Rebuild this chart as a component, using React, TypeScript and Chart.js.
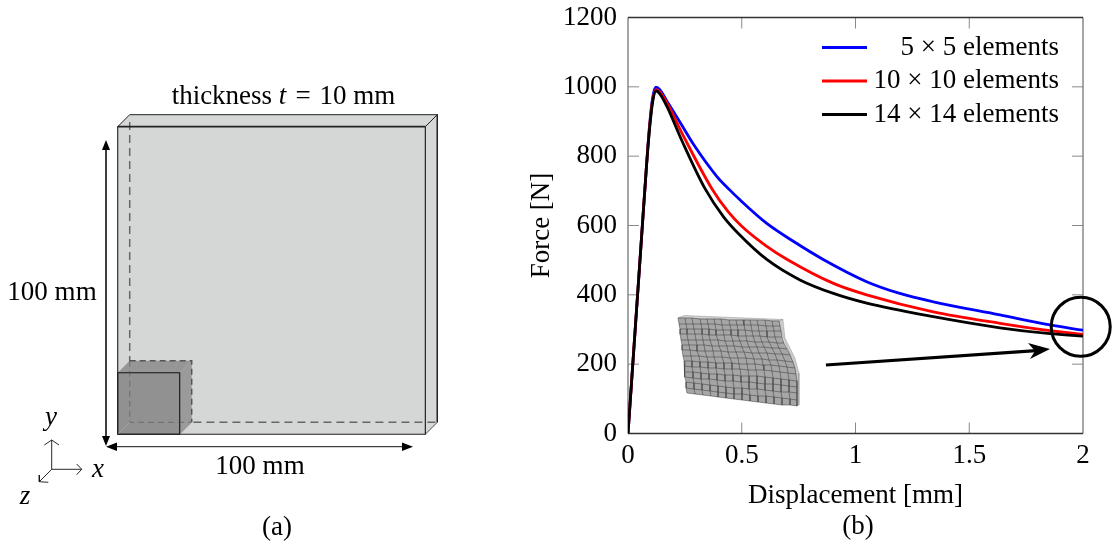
import React, { useEffect, useRef } from "react";
import { Chart, registerables } from "chart.js";

Chart.register(...registerables);

const SERIF = '"Liberation Serif", "Times New Roman", serif';
const FONT_SIZE = 27;

// Force-displacement curves (displacement mm, force N)
const BLUE_DISP = [0, 0.02, 0.04, 0.06, 0.08, 0.095, 0.108, 0.123, 0.14, 0.17, 0.236, 0.287, 0.39, 0.448, 0.492, 0.61, 0.73, 0.858, 1.049, 1.195, 1.342, 1.635, 1.855, 2];
const BLUE_FORCE = [0, 190, 380, 570, 760, 890, 968, 999, 992, 960, 890, 835, 742, 702, 674, 606, 553, 502, 438, 404, 380, 342, 313, 298];
const RED_DISP = [0, 0.02, 0.04, 0.06, 0.08, 0.095, 0.108, 0.123, 0.14, 0.17, 0.236, 0.368, 0.44, 0.5, 0.61, 0.7, 0.903, 1.049, 1.342, 1.635, 1.855, 2];
const RED_FORCE = [0, 190, 380, 570, 760, 885, 960, 992, 985, 955, 868, 707, 640, 598, 540, 502, 433, 400, 351, 318, 297, 286];
const BLACK_DISP = [0, 0.02, 0.04, 0.06, 0.08, 0.095, 0.108, 0.123, 0.14, 0.17, 0.236, 0.338, 0.42, 0.485, 0.61, 0.756, 0.903, 1.049, 1.342, 1.635, 1.855, 2];
const BLACK_FORCE = [0, 190, 380, 570, 760, 880, 955, 988, 980, 945, 846, 707, 625, 577, 502, 443, 404, 376, 337, 305, 288, 281];
const LEGEND_LABELS = ["5 × 5 elements", "10 × 10 elements", "14 × 14 elements"];
const LINE_COLORS = ["#0000ff", "#ff0000", "#000000"];
const ARROW_DISP = [0.87, 1.81];
const ARROW_FORCE = [197.6, 240];
const CIRCLE_DISP = 1.99;
const CIRCLE_FORCE = 308;

// Diagram geometry, in page units
type P = [number, number];
const PLATE_FRONT: P[] = [[117.7, 126.7], [425.3, 126.7], [425.3, 434.3], [117.7, 434.3], [117.7, 126.7]];
const PLATE_TOP: P[] = [[117.7, 126.7], [129.7, 114.7], [437.3, 114.7], [425.3, 126.7], [117.7, 126.7]];
const PLATE_SIDE: P[] = [[425.3, 126.7], [437.3, 114.7], [437.3, 422.3], [425.3, 434.3], [425.3, 126.7]];
const PLATE_HIDDEN: P[] = [[129.7, 122], [129.7, 422.3], [437.3, 422.3]];
const CUBE_FRONT: P[] = [[117.7, 372.7], [179.7, 372.7], [179.7, 434.3], [117.7, 434.3], [117.7, 372.7]];
const CUBE_TOP: P[] = [[117.7, 372.7], [129.7, 360.7], [191.7, 360.7], [179.7, 372.7], [117.7, 372.7]];
const CUBE_SIDE: P[] = [[179.7, 372.7], [191.7, 360.7], [191.7, 422.3], [179.7, 434.3], [179.7, 372.7]];
const CUBE_DASH: P[] = [[129.7, 360.7], [191.7, 360.7], [191.7, 422.3]];
const CUBE_INNER: P[] = [[129.7, 360.7], [129.7, 422.3], [191.7, 422.3]];
const CUBE_LINK_A: P[] = [[117.7, 434.3], [129.7, 422.3]];
const CUBE_LINK_B: P[] = [[179.7, 434.3], [191.7, 422.3]];
const PLATE_LINK: P[] = [[425.3, 434.3], [437.3, 422.3]];
const PLATE_TOP_EDGE: P[] = [[117.7, 126.7], [425.3, 126.7]];
const PLATE_EDGES: P[] = [[425.3, 126.7], [425.3, 434.3], [117.7, 434.3], [117.7, 126.7]];
const DIM_V: P[] = [[106, 146], [106, 440]];
const DIM_H: P[] = [[112, 446.7], [407, 446.7]];
const DIM_HEADS: P[][] = [
  [[106, 140], [102, 150], [110, 150], [106, 140]],
  [[106, 446], [102, 436], [110, 436], [106, 446]],
  [[106, 446.7], [117, 442.5], [117, 451], [106, 446.7]],
  [[413, 446.7], [402, 442.5], [402, 451], [413, 446.7]],
];
const AXIS_LINES: P[][] = [
  [[51.7, 469.3], [51.7, 440]],
  [[51.7, 469.3], [81.7, 469.3]],
  [[51.7, 469.3], [39.3, 481.7]],
  [[44.3, 445], [51.7, 440], [59, 445]],
  [[76.7, 464], [81.7, 469.3], [76.7, 474.7]],
  [[39.3, 475], [39.3, 481.7], [48.3, 482.3]],
];
const FLOW_HEAD: P[] = [[1050, 349], [1028, 343], [1035, 351], [1030, 359], [1050, 349]];

// Deformed mesh inset: node table, rows by columns
const MESH_X = [
  [678, 685, 692, 700, 707, 714, 721, 729, 736, 743, 750, 757, 765, 772, 779],
  [679, 686, 693, 701, 708, 715, 722, 730, 737, 744, 751, 758, 766, 773, 780],
  [680, 687, 694, 702, 709, 716, 723, 731, 738, 745, 752, 759, 767, 774, 781],
  [680, 687, 695, 702, 709, 716, 724, 731, 738, 746, 753, 760, 767, 775, 782],
  [681, 688, 696, 703, 710, 718, 725, 733, 740, 747, 755, 762, 769, 777, 784],
  [682, 689, 697, 704, 712, 719, 727, 734, 742, 749, 757, 764, 772, 779, 787],
  [682, 690, 697, 705, 713, 721, 728, 736, 744, 752, 759, 767, 775, 782, 790],
  [683, 691, 699, 707, 714, 722, 730, 738, 746, 754, 762, 769, 777, 785, 793],
  [684, 692, 700, 708, 716, 724, 732, 739, 747, 755, 763, 771, 779, 787, 795],
  [684, 692, 700, 708, 716, 724, 732, 740, 748, 756, 764, 772, 780, 788, 796],
  [685, 693, 701, 709, 717, 725, 733, 741, 749, 757, 765, 773, 781, 789, 797],
  [685, 693, 701, 709, 717, 725, 733, 741, 749, 757, 765, 773, 781, 789, 797],
  [686, 694, 702, 710, 718, 726, 734, 742, 749, 757, 765, 773, 781, 789, 797],
  [686, 694, 702, 710, 718, 726, 734, 742, 750, 758, 766, 774, 782, 790, 797],
  [687, 695, 703, 711, 718, 726, 734, 742, 750, 758, 766, 774, 782, 790, 797],
];
const MESH_Y = [
  [318, 318, 318, 319, 319, 319, 319, 320, 320, 320, 320, 320, 320, 321, 321],
  [324, 324, 324, 324, 324, 324, 325, 325, 325, 325, 325, 325, 326, 326, 326],
  [329, 329, 329, 329, 329, 330, 330, 330, 330, 330, 331, 331, 331, 331, 331],
  [334, 334, 334, 334, 335, 335, 335, 335, 336, 336, 336, 336, 337, 337, 337],
  [340, 340, 340, 340, 340, 340, 341, 341, 341, 341, 342, 342, 342, 343, 343],
  [345, 345, 345, 345, 346, 346, 346, 346, 347, 347, 347, 347, 348, 348, 349],
  [350, 350, 351, 351, 351, 351, 352, 352, 352, 353, 353, 353, 354, 354, 355],
  [356, 356, 356, 357, 357, 357, 358, 358, 358, 359, 359, 360, 360, 361, 362],
  [361, 361, 362, 362, 363, 363, 363, 364, 364, 364, 365, 365, 366, 367, 368],
  [366, 367, 367, 368, 368, 369, 369, 369, 370, 370, 370, 371, 372, 373, 374],
  [372, 372, 373, 374, 374, 375, 375, 376, 376, 376, 377, 378, 379, 380, 381],
  [377, 378, 379, 379, 380, 381, 381, 382, 382, 383, 384, 384, 385, 386, 387],
  [382, 383, 384, 385, 386, 387, 388, 388, 389, 389, 390, 391, 392, 392, 393],
  [388, 389, 390, 391, 392, 393, 394, 394, 395, 396, 396, 397, 398, 399, 400],
  [393, 394, 395, 396, 397, 398, 399, 400, 401, 402, 403, 404, 405, 405, 406],
];
const MESH_TOP_STRIP: P[] = [[678, 318], [684, 315.5], [783, 319.5], [779, 321], [678, 318]];
const MESH_SIDE_STRIP: P[] = [[779, 321], [783, 319.5], [785, 338], [795, 358], [799, 373], [799, 405], [797, 406], [797, 381], [790, 355], [781, 331], [779, 321]];

type Txt = { parts: [string, boolean][]; x: number; y: number };
const DIAGRAM_TEXT: Txt[] = [
  { parts: [["thickness ", false], ["t", true], ["\u200a = \u200a10 mm", false]], x: 283.5, y: 97 },
  { parts: [["100 mm", false]], x: 52, y: 293 },
  { parts: [["100 mm", false]], x: 260, y: 467 },
  { parts: [["y", true]], x: 51, y: 418 },
  { parts: [["x", true]], x: 98, y: 470 },
  { parts: [["z", true]], x: 25, y: 497 },
  { parts: [["(a)", false]], x: 277, y: 528 },
  { parts: [["(b)", false]], x: 858, y: 527 },
];
const LEGEND_Y = [47.5, 81, 114.5];
const PLOT_TOP = 17.5;
const PLOT_BOTTOM = 433.5;

const toXY = (p: P[]) => p.map(([x, y]) => ({ x, y }));

const polygon = (pts: P[], fill: string, stroke = "transparent", width = 0) => ({
  data: toXY(pts), fill: "shape" as const, backgroundColor: fill, borderColor: stroke, borderWidth: width,
  pointRadius: 0, showLine: true, tension: 0, borderJoinStyle: "miter" as const,
});
const path = (pts: P[], stroke: string, width: number, dash: number[] = []) => ({
  data: toXY(pts), fill: false, borderColor: stroke, borderWidth: width, borderDash: dash,
  pointRadius: 0, showLine: true, tension: 0,
});

const textPlugin = {
  id: "diagramText",
  afterDraw(chart: any) {
    const { ctx, scales } = chart;
    ctx.save();
    ctx.fillStyle = "#000";
    ctx.textBaseline = "middle";
    for (const t of DIAGRAM_TEXT) {
      const fontOf = (it: boolean) => `${it ? "italic " : ""}${FONT_SIZE}px ${SERIF}`;
      let total = 0;
      for (const [s, it] of t.parts) { ctx.font = fontOf(it); total += ctx.measureText(s).width; }
      let x = scales.x.getPixelForValue(t.x) - total / 2;
      const y = scales.y.getPixelForValue(t.y);
      ctx.textAlign = "left";
      for (const [s, it] of t.parts) {
        ctx.font = fontOf(it);
        ctx.fillText(s, x, y);
        x += ctx.measureText(s).width;
      }
    }
    ctx.restore();
  },
};

const framePlugin = {
  id: "frameAndLegend",
  afterLayout(chart: any) {
    const a = chart.chartArea;
    const y = chart.scales.y;
    a.top = PLOT_TOP; a.bottom = PLOT_BOTTOM; a.height = PLOT_BOTTOM - PLOT_TOP;
    y.top = PLOT_TOP; y.bottom = PLOT_BOTTOM; y.height = PLOT_BOTTOM - PLOT_TOP;
    y.configure();
  },
  beforeDatasetsDraw(chart: any) {
    const { ctx, chartArea: a, scales } = chart;
    const tickLen = 11;
    ctx.save();
    ctx.lineWidth = 1;
    ctx.strokeStyle = "#8a8a8a";
    for (const t of scales.y.ticks) {
      const y = scales.y.getPixelForValue(t.value);
      if (t.value === 0 || t.value === 1200) continue;
      ctx.beginPath();
      ctx.moveTo(a.left, y); ctx.lineTo(a.left + tickLen, y);
      ctx.moveTo(a.right - tickLen, y); ctx.lineTo(a.right, y);
      ctx.stroke();
    }
    for (const t of scales.x.ticks) {
      const x = scales.x.getPixelForValue(t.value);
      if (t.value === 0 || t.value === 2) continue;
      ctx.beginPath();
      ctx.moveTo(x, a.top); ctx.lineTo(x, a.top + tickLen);
      ctx.moveTo(x, a.bottom); ctx.lineTo(x, a.bottom - tickLen);
      ctx.stroke();
    }
    ctx.lineWidth = 1.3;
    ctx.strokeStyle = "#777";
    ctx.beginPath();
    ctx.moveTo(a.left, a.top); ctx.lineTo(a.left, a.bottom);
    ctx.moveTo(a.right, a.top); ctx.lineTo(a.right, a.bottom);
    ctx.stroke();
    ctx.strokeStyle = "#333";
    ctx.beginPath();
    ctx.moveTo(a.left, a.top); ctx.lineTo(a.right, a.top);
    ctx.moveTo(a.left, a.bottom); ctx.lineTo(a.right, a.bottom);
    ctx.stroke();
    ctx.restore();
  },
  afterDatasetsDraw(chart: any) {
    const { ctx, scales } = chart;
    ctx.save();
    ctx.strokeStyle = "#000";
    ctx.lineWidth = 3;
    ctx.beginPath();
    ctx.arc(scales.x.getPixelForValue(CIRCLE_DISP), scales.y.getPixelForValue(CIRCLE_FORCE), 29.5, 0, Math.PI * 2);
    ctx.stroke();
    ctx.font = `${FONT_SIZE}px ${SERIF}`;
    ctx.textBaseline = "middle";
    ctx.textAlign = "right";
    LEGEND_LABELS.forEach((label, i) => {
      ctx.strokeStyle = LINE_COLORS[i];
      ctx.lineWidth = 2.8;
      ctx.beginPath();
      ctx.moveTo(822, LEGEND_Y[i]); ctx.lineTo(867, LEGEND_Y[i]);
      ctx.stroke();
      ctx.fillStyle = "#000";
      ctx.fillText(label, 1059, LEGEND_Y[i]);
    });
    ctx.restore();
  },
};

const curve = (xs: number[], ys: number[], color: string) => ({
  data: xs.map((x, i) => ({ x, y: ys[i] })),
  borderColor: color, borderWidth: 2.8, pointRadius: 0, fill: false, showLine: true,
  cubicInterpolationMode: "monotone" as const,
});

export default function App() {
  const mainRef = useRef<HTMLCanvasElement>(null);
  const overlayRef = useRef<HTMLCanvasElement>(null);

  useEffect(() => {
    const main = new Chart(mainRef.current!, {
      type: "scatter",
      data: {
        datasets: [
          curve(BLACK_DISP, BLACK_FORCE, LINE_COLORS[2]),
          curve(RED_DISP, RED_FORCE, LINE_COLORS[1]),
          curve(BLUE_DISP, BLUE_FORCE, LINE_COLORS[0]),
          {
            data: ARROW_DISP.map((x, i) => ({ x, y: ARROW_FORCE[i] })),
            borderColor: "#000", borderWidth: 3.2, pointRadius: 0, showLine: true, fill: false,
          },
        ] as any,
      },
      options: {
        animation: false, responsive: false,
        layout: { autoPadding: false, padding: { left: 526, right: 29, top: 17.5, bottom: 32 } },
        plugins: { legend: { display: false }, tooltip: { enabled: false } },
        events: [],
        scales: {
          x: {
            type: "linear", min: 0, max: 2,
            grid: { display: false, drawTicks: false }, border: { display: false },
            afterFit: (s: any) => { s.height = 544 - 32 - 433.5; },
            ticks: {
              stepSize: 0.5, color: "#000", padding: 6, maxRotation: 0,
              font: { family: SERIF, size: FONT_SIZE },
              callback: (v: any) => String(v),
            },
            title: { display: true, text: "Displacement [mm]", color: "#000", font: { family: SERIF, size: FONT_SIZE }, padding: { top: 0, bottom: 0 } },
          },
          y: {
            type: "linear", min: 0, max: 1200,
            grid: { display: false, drawTicks: false }, border: { display: false },
            afterFit: (s: any) => { s.width = 628 - 526; },
            ticks: {
              stepSize: 200, color: "#000", padding: 11, font: { family: SERIF, size: FONT_SIZE },
              callback: (v: any) => String(v),
            },
            title: { display: true, text: "Force [N]", color: "#000", font: { family: SERIF, size: FONT_SIZE }, padding: { top: 0, bottom: 0 } },
          },
        },
      } as any,
      plugins: [framePlugin],
    });

    const meshBoundary: P[] = [
      ...MESH_X[0].map((x, c): P => [x, MESH_Y[0][c]]),
      ...MESH_X.map((row, r): P => [row[14], MESH_Y[r][14]]),
      ...MESH_X[14].map((x, c): P => [x, MESH_Y[14][c]]).reverse(),
      ...MESH_X.map((row, r): P => [row[0], MESH_Y[r][0]]).reverse(),
    ];
    const meshRows = MESH_X.map((row, r) => path(row.map((x, c): P => [x, MESH_Y[r][c]]), "rgba(50,50,50,0.6)", 0.8));
    const meshCols = MESH_X[0].map((_, c) => path(MESH_X.map((row, r): P => [row[c], MESH_Y[r][c]]), "rgba(50,50,50,0.6)", 0.8));

    const layers: any[] = [
      polygon(PLATE_TOP, "#d6d8d7", "#222", 1),
      polygon(PLATE_SIDE, "#d6d8d7", "#222", 1),
      polygon(PLATE_FRONT, "#d5d7d6"),
      path(PLATE_HIDDEN, "#666", 1.5, [8, 5]),
      path(PLATE_LINK, "#aaa", 1),
      polygon(CUBE_TOP, "#959695"),
      polygon(CUBE_SIDE, "#999a99"),
      polygon(CUBE_FRONT, "#909190", "#111", 1.1),
      path(CUBE_INNER, "rgba(90,90,90,0.55)", 1.2, [6, 4]),
      path(CUBE_DASH, "#555", 1.5, [6, 4]),
      path(CUBE_LINK_A, "#a5a5a5", 1),
      path(CUBE_LINK_B, "#a5a5a5", 1),
      path(PLATE_TOP_EDGE, "#222", 1.8),
      path(PLATE_EDGES, "#222", 1.1),
      path(DIM_V, "#222", 1),
      path(DIM_H, "#111", 1),
      ...DIM_HEADS.map((h) => polygon(h, "#000")),
      ...AXIS_LINES.map((l) => path(l, "#111", 0.9)),
      polygon(MESH_TOP_STRIP, "#d2d2d2", "rgba(90,90,90,0.6)", 0.5),
      polygon(MESH_SIDE_STRIP, "#cccccc", "rgba(90,90,90,0.5)", 0.5),
      polygon(meshBoundary, "#a6a6a6"),
      ...meshRows,
      ...meshCols,
      polygon(FLOW_HEAD, "#000"),
    ];
    const overlay = new Chart(overlayRef.current!, {
      type: "scatter",
      data: { datasets: layers.map((d, i) => ({ ...d, order: layers.length - i })) },
      options: {
        animation: false, responsive: false, events: [],
        layout: { autoPadding: false, padding: 0 },
        plugins: { legend: { display: false }, tooltip: { enabled: false } },
        scales: {
          x: { type: "linear", min: 0, max: 1112, display: false },
          y: { type: "linear", min: 0, max: 544, reverse: true, display: false },
        },
      } as any,
      plugins: [textPlugin],
    });
    return () => { main.destroy(); overlay.destroy(); };
  }, []);

  const abs: React.CSSProperties = { position: "absolute", left: 0, top: 0 };
  return (
    <div style={{ position: "fixed", left: 0, top: 0, width: 1112, height: 544, background: "#fff" }}>
      <canvas ref={mainRef} width={1112} height={544} style={abs} />
      <canvas ref={overlayRef} width={1112} height={544} style={abs} />
    </div>
  );
}
